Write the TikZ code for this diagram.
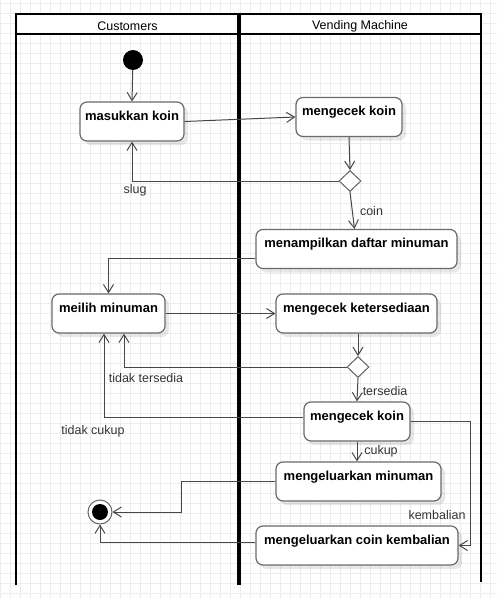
\documentclass[tikz,border=0pt]{standalone}
\usepackage{fontspec}
\setmainfont{Liberation Sans}
\usetikzlibrary{shapes.geometric,arrows.meta,shadows}

\tikzset{
	act/.style={draw=black!58, line width=1.2pt, fill=white, rounded corners=7pt,
		font=\fontsize{13}{15}\selectfont\bfseries, inner xsep=5pt, inner ysep=5pt,
		text height=13pt, text depth=16pt,
		drop shadow={shadow xshift=4pt, shadow yshift=-4pt, opacity=0.09, fill=black}},
	choice/.style={diamond, draw=black!62, line width=1pt, fill=white, inner sep=0pt,
		minimum width=22pt, minimum height=21pt},
	flow/.style={draw=black!72, line width=1pt, -{Straight Barb[length=8pt,width=10pt]}},
	guard/.style={font=\fontsize{12.5}{14}\selectfont, text=black!80, inner sep=0pt},
	lane/.style={line width=2pt},
	gridline/.style={draw=black!7, line width=0.8pt}
}

\begin{document}
\begin{tikzpicture}[x=1pt,y=-1pt]
	\useasboundingbox (0,0) rectangle (497,598);
%
	\fill[white] (0,0) rectangle (497,598);
	\foreach \gx in {0,10,...,490} \draw[gridline] (\gx,0) -- (\gx,598);
	\foreach \gy in {3,13,...,593} \draw[gridline] (0,\gy) -- (497,\gy);
%
	\fill[white] (16,14) rectangle (481,34);
	\draw[lane] (16,585) -- (16,14) -- (481,14) -- (481,582);
	\draw[lane] (16,34) -- (481,34);
	\draw[line width=3.5pt] (239,14) -- (239,585);
	\node[guard, text=black] (cust) at (127.5,26) {Customers};
	\node[guard, text=black] (vend) at (360,26) {Vending Machine};
%
	\node[circle, fill=black, minimum size=20pt, inner sep=0pt] (start) at (133,60) {};
	\node[act, minimum width=104pt] (masuk) at (132,121.5) {masukkan koin};
	\node[act, minimum width=106pt] (cek1) at (349,117) {mengecek koin};
	\node[choice] (d1) at (350,181) {};
	\node[act, minimum width=201pt] (tampil) at (356.5,249) {menampilkan daftar minuman};
	\node[act, minimum width=113pt] (pilih) at (108.5,313.5) {meilih minuman};
	\node[act, minimum width=161pt] (sedia) at (356.5,313.5) {mengecek ketersediaan};
	\node[choice] (d2) at (358,367) {};
	\node[act, minimum width=106pt] (cek2) at (357,421.5) {mengecek koin};
	\node[act, minimum width=165pt] (keluar) at (358.5,481.5) {mengeluarkan minuman};
	\node[act, minimum width=202pt] (kembali) at (357,545.5) {mengeluarkan coin kembalian};
	\node[circle, draw=black!60, line width=1pt, fill=white, minimum size=24pt, inner sep=0pt] (fin) at (100,512) {};
	\fill (fin) circle (8);
%
	\draw[flow] (start) -- (masuk.north);
	\draw[flow] (masuk.east) -- (cek1.west);
	\draw[flow] (cek1.south) -- (d1.north);
	\draw[flow] (d1.west) -| (masuk.south);
	\draw[flow] (d1.south) -- ([xshift=-2pt]tampil.north);
	\draw[flow] ([yshift=-9pt]tampil.west) -| (pilih.north);
	\draw[flow] (pilih.east) -- (sedia.west);
	\draw[flow] (sedia.south -| d2) -- (d2.north);
	\draw[flow] (d2.west) -| ([xshift=15.5pt]pilih.south);
	\draw[flow] (d2.south) -- (cek2.north);
	\draw[flow] ([yshift=4pt]cek2.west) -| ([xshift=-4.5pt]pilih.south);
	\draw[flow] (cek2.south) -- (cek2.south |- keluar.north);
	\draw[flow] (cek2.east) -- ++(60,0) |- (kembali.east);
	\draw[flow] (keluar.west) -- ++(-94,0) |- (fin.east);
	\draw[flow] ([yshift=3.5pt]kembali.west) -| (fin.south);
%
	\node[guard] (gslug) at (135,190) {slug};
	\node[guard] (gcoin) at (371.5,211) {coin};
	\node[guard] (gtidak) at (146,378) {tidak tersedia};
	\node[guard] (gsedia) at (385,391) {tersedia};
	\node[guard] (gkurang) at (93,431) {tidak cukup};
	\node[guard] (gcukup) at (381,451) {cukup};
	\node[guard] (gkembali) at (437,515) {kembalian};
\end{tikzpicture}
\end{document}
